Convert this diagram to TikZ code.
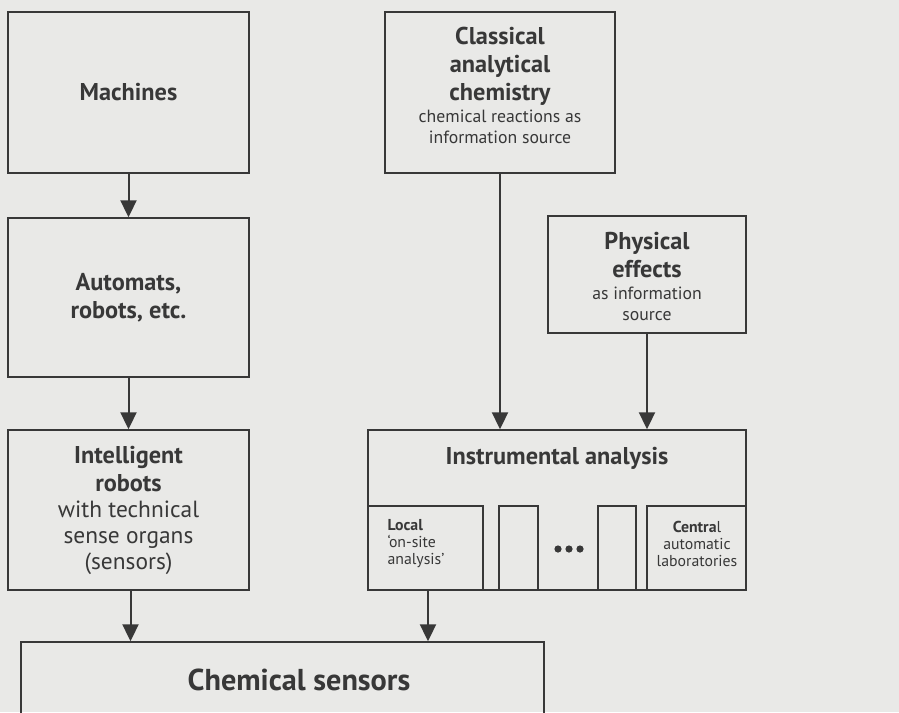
\documentclass[tikz,border=0pt]{standalone}
\usepackage{fontspec}
\setmainfont{PT Sans}
\usepackage{tikz}
\usetikzlibrary{positioning,arrows.meta}

\definecolor{inkgray}{HTML}{383838}
\definecolor{paper}{HTML}{E9E9E7}

\tikzset{
  box/.style={draw=inkgray, line width=1.4pt, text=inkgray, align=center, inner sep=0pt},
  flow/.style={draw=inkgray, line width=2pt, -{Triangle[width=16pt,length=17pt]}},
  big/.style={font=\fontsize{24.3}{28}\selectfont\bfseries},
  small/.style={font=\fontsize{15.8}{18}\selectfont}
}
\newcommand{\subtext}[1]{{\fontsize{17.7}{22}\selectfont\mdseries #1}}

\begin{document}
\begin{tikzpicture}[x=1pt, y=-1pt]

\fill[paper] (0,0) rectangle (899,712);
\useasboundingbox (0,0) rectangle (899,712);

% left column
\node[box, big, minimum width=241pt, minimum height=161pt] (mach) at (128.5,92.5) {Machines};
\node[box, big, minimum width=241pt, minimum height=159pt] (auto) at (128.5,297.5) {Automats,\\robots, etc.};
\node[box, big, minimum width=241pt, minimum height=160pt] (intel) at (128.5,510)
  {Intelligent\\robots\\[-2pt]{\fontsize{23.4}{28}\mdseries with technical}\\[-2pt]{\fontsize{23.4}{28}\mdseries sense organs}\\[-2pt]{\fontsize{23.4}{28}\mdseries (sensors)}};

% right column
\node[box, big, minimum width=230pt, minimum height=161pt] (clas) at (500,92.5) {};
\node[text=inkgray, big, align=center] (clastext) at (500,85)
  {Classical\\analytical\\chemistry\\[-6pt]\subtext{chemical reactions as}\\[-7pt]\subtext{information source}};
\node[box, minimum width=198pt, minimum height=117pt] (phys) at (647,274.5) {};
\node[text=inkgray, big, align=center] (phystext) at (647,276)
  {Physical\\effects\\[-6pt]\subtext{as information}\\[-7pt]\subtext{source}};

% instrumental analysis
\node[box, minimum width=378pt, minimum height=160pt] (instr) at (557,510) {};
\node[text=inkgray, big] (instrtext) at (557,458) {Instrumental analysis};
\node[box, small, minimum width=115pt, minimum height=84pt] (local) at (425.5,548) {};
\node[text=inkgray, small, align=left, anchor=west] (localtext) at (384,544)
  {\textbf{Local}\\[-1pt]`on-site\\[-1pt]analysis'};
\node[box, minimum width=39pt, minimum height=84pt] (gapa) at (518.5,548) {};
\node[box, minimum width=38pt, minimum height=84pt] (gapb) at (617,548) {};
\node[box, small, minimum width=99pt, minimum height=84pt] (central) at (696.5,548) {};
\node[text=inkgray, small, align=center] (centraltext) at (697,544)
  {\textbf{Centra}l\\[-1pt]automatic\\[-1pt]laboratories};
\foreach \dx [count=\i] in {-11,0,11}
  \fill[inkgray] (569+\dx,549) circle (3.6pt) coordinate (dot\i);

% target
\node[box, minimum width=523pt, minimum height=100pt] (sens) at (282.5,692) {};
\node[text=inkgray, font=\fontsize{30.2}{34}\selectfont\bfseries] (senstext) at (299,680) {Chemical sensors};

% arrows
\draw[flow] (mach.south) -- (auto.north);
\draw[flow] (auto.south) -- (intel.north);
\draw[flow] ([xshift=2pt]intel.south) -- ([xshift=2pt]intel.south |- sens.north);
\draw[flow] (clas.south) -- (clas.south |- instr.north);
\draw[flow] (phys.south) -- (phys.south |- instr.north);
\draw[flow] ([xshift=2.5pt]local.south) -- ([xshift=2.5pt]local.south |- sens.north);

\end{tikzpicture}
\end{document}
